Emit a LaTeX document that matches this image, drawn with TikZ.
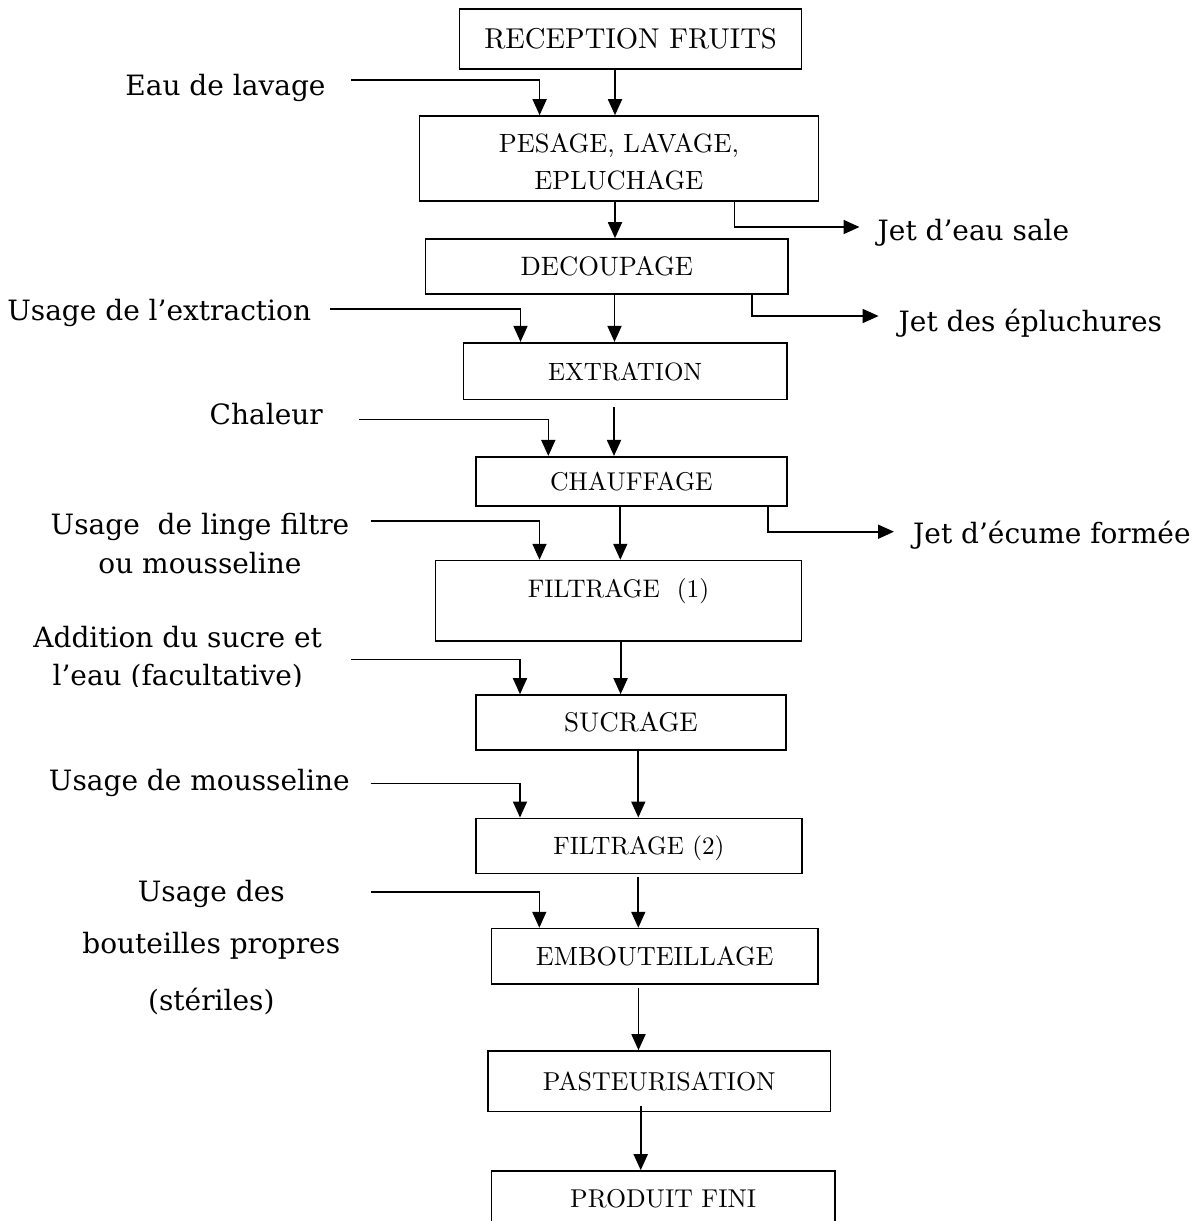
\documentclass[tikz,border=0pt]{standalone}
\usepackage{fontspec}
\newfontfamily\labelfont{DejaVu Serif}
\newfontfamily\boxfont{lmroman10-regular.otf}
\usetikzlibrary{arrows.meta}

\begin{document}
\begin{tikzpicture}[x=1pt,y=-1pt,
  box/.style={draw, line width=1.6pt, inner sep=0pt, text height=18pt, text depth=0pt,
    font=\boxfont\fontsize{26}{30}\selectfont},
  flow/.style={line width=1.8pt, -{Triangle[length=16pt,width=14pt]}},
  feed/.style={line width=1.6pt, -{Triangle[length=16pt,width=14pt]}},
  lab/.style={inner sep=0pt, anchor=base, align=center,
    font=\labelfont\fontsize{28}{39}\selectfont},
  outlab/.style={inner sep=0pt, anchor=base west,
    font=\labelfont\fontsize{28}{39}\selectfont}]

\path[use as bounding box, fill=white] (0,0) rectangle (1201,1221);
\clip (0,0) rectangle (1201,1221);

% process steps
\node[box, minimum width=342pt, minimum height=60pt, font=\boxfont\fontsize{28.7}{33}\selectfont]
  (rec) at (630.6,39) {RECEPTION FRUITS};
\node[box, minimum width=399pt, minimum height=85pt, align=center, text height=61pt,
  font=\boxfont\fontsize{26.4}{37}\selectfont]
  (pes) at (618.9,158.5) {PESAGE, LAVAGE,\\EPLUCHAGE};
\node[box, minimum width=362.4pt, minimum height=55pt, font=\boxfont\fontsize{26.6}{30}\selectfont]
  (dec) at (606.8,266.5) {DECOUPAGE};
\node[box, minimum width=323.4pt, minimum height=56.6pt, font=\boxfont\fontsize{25}{30}\selectfont]
  (ext) at (625.1,371) {EXTRATION};
\node[box, minimum width=310.7pt, minimum height=49.3pt, font=\boxfont\fontsize{25.7}{30}\selectfont]
  (cha) at (631.4,481.4) {CHAUFFAGE};
\node[box, minimum width=366pt, minimum height=80.5pt, text depth=25.6pt,
  font=\boxfont\fontsize{25.4}{30}\selectfont]
  (fi1) at (618.5,600.8) {FILTRAGE\ \ (1)};
\node[box, minimum width=310pt, minimum height=55pt, font=\boxfont\fontsize{27}{30}\selectfont]
  (suc) at (631,722.5) {SUCRAGE};
\node[box, minimum width=325.7pt, minimum height=55pt, font=\boxfont\fontsize{25.1}{30}\selectfont]
  (fi2) at (638.9,845.8) {FILTRAGE (2)};
\node[box, minimum width=326.5pt, minimum height=55.5pt, font=\boxfont\fontsize{26.3}{30}\selectfont]
  (emb) at (654.8,956.3) {EMBOUTEILLAGE};
\node[box, minimum width=342.4pt, minimum height=60.7pt, font=\boxfont\fontsize{25.9}{30}\selectfont]
  (pas) at (659.2,1081.3) {PASTEURISATION};
\node[box, minimum width=343.5pt, minimum height=55pt, font=\boxfont\fontsize{25.75}{30}\selectfont]
  (pro) at (663.2,1198.5) {PRODUIT FINI};

% main flow
\draw[flow] (rec.south -| 615,0) -- (pes.north -| 615,0);
\draw[flow] (pes.south -| 615,0) -- (dec.north -| 615,0);
\draw[flow] (dec.south -| 614.5,0) -- (ext.north -| 614.5,0);
\draw[flow] (ext.south -| 614,0) ++(0,7) -- (cha.north -| 614,0);
\draw[flow] (cha.south -| 620.3,0) -- (fi1.north -| 620.3,0);
\draw[flow] (fi1.south -| 620.6,0) -- (suc.north -| 620.6,0);
\draw[flow] (suc.south -| 638.3,0) -- (fi2.north -| 638.3,0);
\draw[flow] (fi2.south -| 638.3,0) ++(0,3) -- (emb.north -| 638.3,0);
\draw[flow] (emb.south -| 638.5,0) ++(0,3) -- (pas.north -| 638.5,0);
\draw[flow] (pas.south -| 640.7,0) ++(0,-6) -- (pro.north -| 640.7,0);

% inputs (a multi-line label sits on the baseline of its last line)
\node[lab] (in1) at (225.5,95) {Eau de lavage};
\node[lab] (in2) at (159.2,320.7) {Usage de l’extraction};
\node[lab] (in3) at (266.2,424) {Chaleur};
\node[lab, font=\labelfont\fontsize{28}{39.3}\selectfont]
  (in4) at (200,573.3) {Usage\ \ de linge filtre\\ou mousseline};
\begin{scope}
  \clip (0,600) rectangle (345,686);
  \node[lab, font=\labelfont\fontsize{28}{37.7}\selectfont]
    (in5) at (177.7,685) {Addition du sucre et\\l’eau (facultative)};
\end{scope}
\node[lab] (in6) at (199.3,790.7) {Usage de mousseline};
\node[lab, font=\labelfont\fontsize{28}{51.6}\selectfont]
  (in7) at (211.3,1010.7) {Usage des\\bouteilles propres\\[5.8pt](stériles)};

\coordinate (s1) at (351,80);
\coordinate (s2) at (330,309);
\coordinate (s3) at (359,419.3);
\coordinate (s4) at (370.5,520.7);
\coordinate (s5) at (351,659.3);
\coordinate (s6) at (370.7,783.5);
\coordinate (s7) at (370.7,891.7);
\draw[feed] (s1) -| (pes.north -| 539.6,0);
\draw[feed] (s2) -| (ext.north -| 520.5,0);
\draw[feed] (s3) -| (cha.north -| 548.3,0);
\draw[feed] (s4) -| (fi1.north -| 539.5,0);
\draw[feed] (s5) -| (suc.north -| 520,0);
\draw[feed] (s6) -| (fi2.north -| 520,0);
\draw[feed] (s7) -| (emb.north -| 539.3,0);

% outputs
\node[outlab] (o1) at (877.5,240) {Jet d’eau sale};
\node[outlab] (o2) at (898.5,331.7) {Jet des épluchures};
\node[outlab] (o3) at (913,543.3) {Jet d’écume formée};
\coordinate (t1) at (859.5,227);
\coordinate (t2) at (878.6,316);
\coordinate (t3) at (894,531.7);
\draw[flow] (pes.south -| 734.5,0) |- (t1);
\draw[flow] (dec.south -| 752,0) |- (t2);
\draw[flow] (cha.south -| 768,0) |- (t3);
\end{tikzpicture}
\end{document}
